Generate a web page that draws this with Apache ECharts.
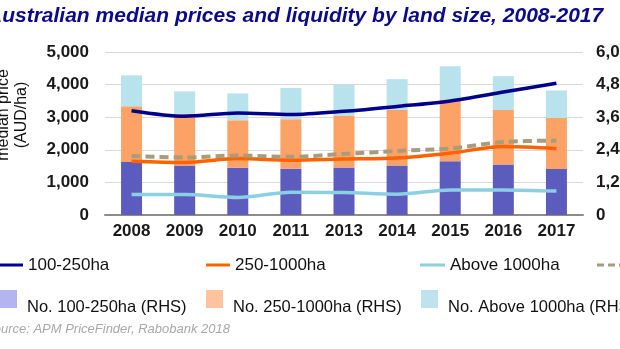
<!DOCTYPE html>
<html>
<head>
<meta charset="utf-8">
<script src="https://cdn.jsdelivr.net/npm/echarts@6/dist/echarts.min.js"></script>
<style>
html,body{margin:0;padding:0;background:#fff;}
#chart{width:620px;height:349px;}
</style>
</head>
<body>
<div id="chart"></div>
<script>
const years = ['2008','2009','2010','2011','2013','2014','2015','2016','2017'];
// Median prices, AUD/ha (left axis)
const price100_250 = [3200,3030,3130,3080,3180,3330,3500,3770,4040];
const price250_1000 = [1650,1610,1730,1680,1720,1750,1900,2100,2035];
const priceAbove1000 = [630,630,540,700,690,640,770,770,735];
const priceAll = [1810,1765,1825,1785,1875,1965,2040,2240,2280];
// Number of sales (right axis, stacked)
const no100_250 = [1955,1825,1735,1700,1750,1825,1980,1860,1690];
const no250_1000 = [2045,1905,1750,1825,1910,2040,2275,2005,1880];
const noAbove1000 = [1140,820,990,1150,1140,1135,1220,1245,1015];

const FONT = 'Liberation Sans';
const fmt = v => String(v).replace(/\B(?=(\d{3})+(?!\d))/g, ',');

const chart = echarts.init(document.getElementById('chart'), null, {renderer:'canvas'});

const legendRow1 = (name, left, width, icon) => ({
  data:[name], left:left, top:255, padding:0, itemWidth:width, itemHeight:3,
  icon:icon, selectedMode:false,
  textStyle:{fontFamily:FONT, fontSize:17, color:'#111', lineHeight:20}
});
const SWATCH = 'path://M0,0h17v18h-17z M0,33.9h0.1v0.1h-0.1z';
const legendRow2 = (name, color, left) => ({
  data:[{name:name, itemStyle:{color:color}}], left:left, top:290, padding:0,
  itemWidth:17, itemHeight:34, icon:SWATCH, selectedMode:false,
  textStyle:{fontFamily:FONT, fontSize:16.5, color:'#111', lineHeight:20, padding:[0,0,0,5]}
});

const option = {
  animation:false,
  title:[
    {text:'Australian median prices and liquidity by land size, 2008-2017', left:-13, top:6, padding:0,
     textStyle:{fontFamily:FONT, fontSize:21, fontStyle:'italic', fontWeight:'bold', color:'#0a0a8c'}},
    {text:'Source: APM PriceFinder, Rabobank 2018', left:-15, top:323, padding:0,
     textStyle:{fontFamily:FONT, fontSize:13, fontStyle:'italic', fontWeight:'normal', color:'#a8a8a8'}}
  ],
  graphic:[
    {type:'text', x:13, y:115, rotation:Math.PI/2,
     style:{text:'median price\n(AUD/ha)', align:'center', verticalAlign:'middle',
            font:'16px "Liberation Sans"', lineHeight:18, fill:'#111'}}
  ],
  legend:[
    legendRow1('100-250ha', -2, 25, 'rect'),
    legendRow1('250-1000ha', 206, 24, 'rect'),
    legendRow1('Above 1000ha', 420, 25, 'rect'),
    legendRow1('All land sizes', 597, 25, 'path://M0,0h7v3h-7z M11,0h7v3h-7z M22,0h3v3h-3z'),
    legendRow2('No. 100-250ha (RHS)', '#b4b4f2', 0),
    legendRow2('No. 250-1000ha (RHS)', '#ffc49e', 206),
    legendRow2('No. Above 1000ha (RHS)', '#bfe3ee', 421)
  ],
  grid:{left:105, right:37, top:52, bottom:134, outerBoundsMode:'none', containLabel:false},
  xAxis:{
    type:'category', data:years,
    axisTick:{show:false},
    axisLine:{lineStyle:{color:'#8c8c8c', width:2}},
    axisLabel:{fontFamily:FONT, fontSize:17, fontWeight:'bold', color:'#1a1a1a', margin:8}
  },
  yAxis:[
    {type:'value', min:0, max:5000, interval:1000,
     axisLine:{show:false}, axisTick:{show:false},
     splitLine:{lineStyle:{color:'#d9d9d9', width:1}},
     axisLabel:{fontFamily:FONT, fontSize:17, fontWeight:'bold', color:'#1a1a1a', margin:16, formatter:fmt}},
    {type:'value', min:0, max:6000, interval:1200,
     axisLine:{show:false}, axisTick:{show:false}, splitLine:{show:false},
     axisLabel:{fontFamily:FONT, fontSize:17, fontWeight:'bold', color:'#1a1a1a', margin:13, formatter:fmt}}
  ],
  series:[
    {name:'No. 100-250ha (RHS)', type:'bar', stack:'n', yAxisIndex:1, barWidth:21, data:no100_250, itemStyle:{color:'#5c5cbf'}},
    {name:'No. 250-1000ha (RHS)', type:'bar', stack:'n', yAxisIndex:1, barWidth:21, data:no250_1000, itemStyle:{color:'#fda266'}},
    {name:'No. Above 1000ha (RHS)', type:'bar', stack:'n', yAxisIndex:1, barWidth:21, data:noAbove1000, itemStyle:{color:'#b8e2ec'}},
    {name:'100-250ha', type:'line', yAxisIndex:0, data:price100_250, symbol:'none', smooth:0.3, z:4,
     lineStyle:{color:'#00008c', width:3.5}, itemStyle:{color:'#00008c'}},
    {name:'250-1000ha', type:'line', yAxisIndex:0, data:price250_1000, symbol:'none', smooth:0.3, z:4,
     lineStyle:{color:'#ff6200', width:3.5}, itemStyle:{color:'#ff6200'}},
    {name:'Above 1000ha', type:'line', yAxisIndex:0, data:priceAbove1000, symbol:'none', smooth:0.3, z:4,
     lineStyle:{color:'#8ccfe4', width:3.5}, itemStyle:{color:'#8ccfe4'}},
    {name:'All land sizes', type:'line', yAxisIndex:0, data:priceAll, symbol:'none', smooth:0.3, z:4,
     lineStyle:{color:'#a89c7a', width:4, type:[9,5]}, itemStyle:{color:'#a89c7a'}}
  ]
};
chart.setOption(option);
</script>
</body>
</html>
